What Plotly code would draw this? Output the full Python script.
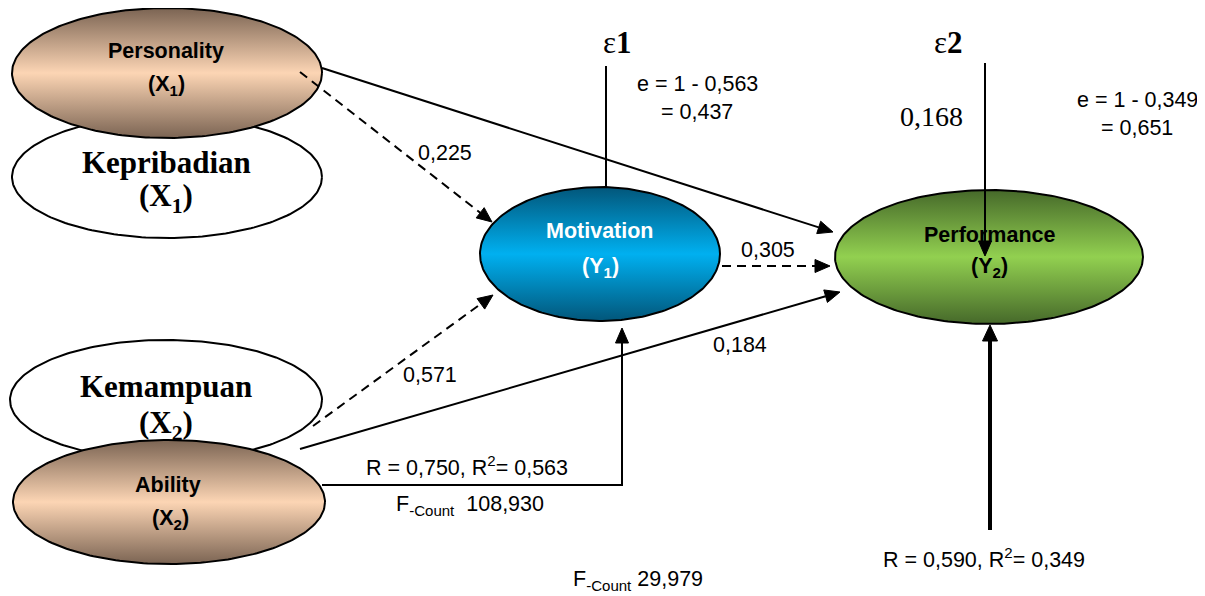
import numpy as np
import plotly.graph_objects as go

# ---------------- data ----------------
node_keys = ["X1_id", "X1", "X2_id", "X2", "Y1", "Y2"]
node_titles = ["Kepribadian", "Personality", "Kemampuan", "Ability", "Motivation", "Performance"]
node_subs = ["(X<sub>1</sub>)", "(X<sub>1</sub>)", "(X<sub>2</sub>)", "(X<sub>2</sub>)",
             "(Y<sub>1</sub>)", "(Y<sub>2</sub>)"]
path_from = ["X1", "X1", "X2", "X2", "Y1"]
path_to = ["Y1", "Y2", "Y1", "Y2", "Y2"]
path_coef = [0.225, None, 0.571, 0.184, 0.305]
path_dashed = [True, False, True, False, True]
eps2_coef = 0.168
R_model1, R2_model1, F_model1 = 0.750, 0.563, 108.930
R_model2, R2_model2, F_model2 = 0.590, 0.349, 29.979


def fmt(v, d=3):
    return f"{v:.{d}f}".replace(".", ",")


# ---------------- layout (pixel geometry) ----------------
ellipses = {  # cx, cy, rx, ry
    "X1_id": (167, 177, 155, 61),
    "X1": (167, 73, 155, 65),
    "X2_id": (166, 400, 156, 60),
    "X2": (169, 502, 156, 62),
    "Y1": (600, 254, 120, 67),
    "Y2": (989, 257, 154, 67),
}
fills = {
    "X1_id": None, "X2_id": None,
    "X1": ("#7b6453", "#fcd5b4"),
    "X2": ("#7b6453", "#fcd5b4"),
    "Y1": ("#02567a", "#00b0f0"),
    "Y2": ("#46692a", "#92d050"),
}
title_pos = {
    "X1_id": ((166, 162), (166, 198)),
    "X1": ((166, 51), (166, 85)),
    "X2_id": ((166, 386), (166, 425)),
    "X2": ((168, 485), (170, 519)),
    "Y1": ((600, 231), (600, 267)),
    "Y2": ((989, 235), (989, 267)),
}
path_geom = [((300, 72), (492, 222)),
             ((322, 68), (833, 232)),
             ((313, 426), (493, 295)),
             ((300, 449), (840, 292)),
             ((722, 266), (830, 266))]
coef_pos = [(445, 153), None, (430, 375), (740, 345), (768, 250)]

SANS = "Liberation Sans Narrow, Arial Narrow, Liberation Sans"
SERIF = "Liberation Serif, Times New Roman"

fig = go.Figure()

t = np.linspace(0, 2 * np.pi, 240)
for key, title, sub in zip(node_keys, node_titles, node_subs):
    cx, cy, rx, ry = ellipses[key]
    xs = cx + rx * np.cos(t)
    ys = cy + ry * np.sin(t)
    f = fills[key]
    kw = dict(x=xs, y=ys, mode="lines", fill="toself",
              line=dict(color="black", width=2), hoverinfo="skip", showlegend=False)
    if f is None:
        kw["fillcolor"] = "white"
    else:
        kw["fillgradient"] = dict(type="vertical",
                                  colorscale=[[0, f[0]], [0.5, f[1]], [1, f[0]]])
    fig.add_trace(go.Scatter(**kw))

    (tx, ty), (sx, sy) = title_pos[key]
    if key.endswith("_id"):
        font = dict(family=SERIF, size=31, color="black")
    else:
        col = "white" if key == "Y1" else "black"
        font = dict(family=SANS, size=21.5, color=col)
    fig.add_annotation(x=tx, y=ty, text=f"<b>{title}</b>", showarrow=False, font=font)
    fig.add_annotation(x=sx, y=sy, text=f"<b>{sub}</b>", showarrow=False, font=font)


def add_line(pts, dash=False, width=2):
    xs = [p[0] for p in pts]
    ys = [p[1] for p in pts]
    fig.add_trace(go.Scatter(x=xs, y=ys, mode="lines",
                             line=dict(color="black", width=width,
                                       dash="9px,6px" if dash else "solid"),
                             hoverinfo="skip", showlegend=False))


def add_arrow(pts, dash=False, width=2, L=15, W=6.5):
    (x0, y0), (x1, y1) = pts[-2], pts[-1]
    d = np.hypot(x1 - x0, y1 - y0)
    ux, uy = (x1 - x0) / d, (y1 - y0) / d
    bx, by = x1 - L * ux, y1 - L * uy
    add_line(list(pts[:-1]) + [(bx, by)], dash, width)
    px, py = -uy, ux
    fig.add_trace(go.Scatter(x=[x1, bx + W * px, bx - W * px, x1],
                             y=[y1, by + W * py, by - W * py, y1],
                             mode="lines", fill="toself", fillcolor="black",
                             line=dict(color="black", width=1),
                             hoverinfo="skip", showlegend=False))


num_font = dict(family=SANS, size=21.5, color="black")

for (p0, p1), dsh, c, cp in zip(path_geom, path_dashed, path_coef, coef_pos):
    add_arrow([p0, p1], dash=dsh)
    if c is not None:
        fig.add_annotation(x=cp[0], y=cp[1], text=fmt(c), showarrow=False, font=num_font)

# Ability -> Motivation simultaneous (elbow)
add_arrow([(322, 485), (622, 485), (622, 328)])
fig.add_annotation(x=467, y=466, text=f"R = {fmt(R_model1)}, R<sup>2</sup>= {fmt(R2_model1)}",
                   showarrow=False, font=num_font)
fig.add_annotation(x=470, y=505, text=f"F<sub>-Count</sub>  {fmt(F_model1)}",
                   showarrow=False, font=num_font)

# epsilon 1
add_line([(606, 66), (606, 187)])
fig.add_annotation(x=617, y=42, text="ε<b>1</b>", showarrow=False,
                   font=dict(family=SERIF, size=31, color="black"))
fig.add_annotation(x=697, y=84, text=f"e = 1 - {fmt(R2_model1)}", showarrow=False, font=num_font)
fig.add_annotation(x=697, y=112, text=f"= {fmt(1 - R2_model1)}", showarrow=False, font=num_font)

# epsilon 2
add_arrow([(985, 63), (985, 256)])
fig.add_annotation(x=948, y=42, text="ε<b>2</b>", showarrow=False,
                   font=dict(family=SERIF, size=31, color="black"))
fig.add_annotation(x=931, y=116, text=fmt(eps2_coef), showarrow=False,
                   font=dict(family=SERIF, size=28, color="black"))
fig.add_annotation(x=1137, y=100, text=f"e = 1 - {fmt(R2_model2)}", showarrow=False, font=num_font)
fig.add_annotation(x=1137, y=128, text=f"= {fmt(1 - R2_model2)}", showarrow=False, font=num_font)

# bottom thick arrow into Performance
add_arrow([(990, 530), (990, 325)], width=4, L=16, W=7.5)
fig.add_annotation(x=984, y=558, text=f"R = {fmt(R_model2)}, R<sup>2</sup>= {fmt(R2_model2)}",
                   showarrow=False, font=num_font)
fig.add_annotation(x=638, y=580, text=f"F<sub>-Count</sub> {fmt(F_model2)}",
                   showarrow=False, font=num_font)

# page body has an 8px margin: shift the data window so marks land on reference pixels
OFF = 8
fig.update_layout(
    width=1205 - OFF, height=596 - OFF,
    margin=dict(l=0, r=0, t=0, b=0),
    paper_bgcolor="white", plot_bgcolor="white",
    xaxis=dict(range=[OFF, 1205], visible=False, fixedrange=True),
    yaxis=dict(range=[596, OFF], visible=False, fixedrange=True),
    showlegend=False,
)
fig.write_html("out.html")
